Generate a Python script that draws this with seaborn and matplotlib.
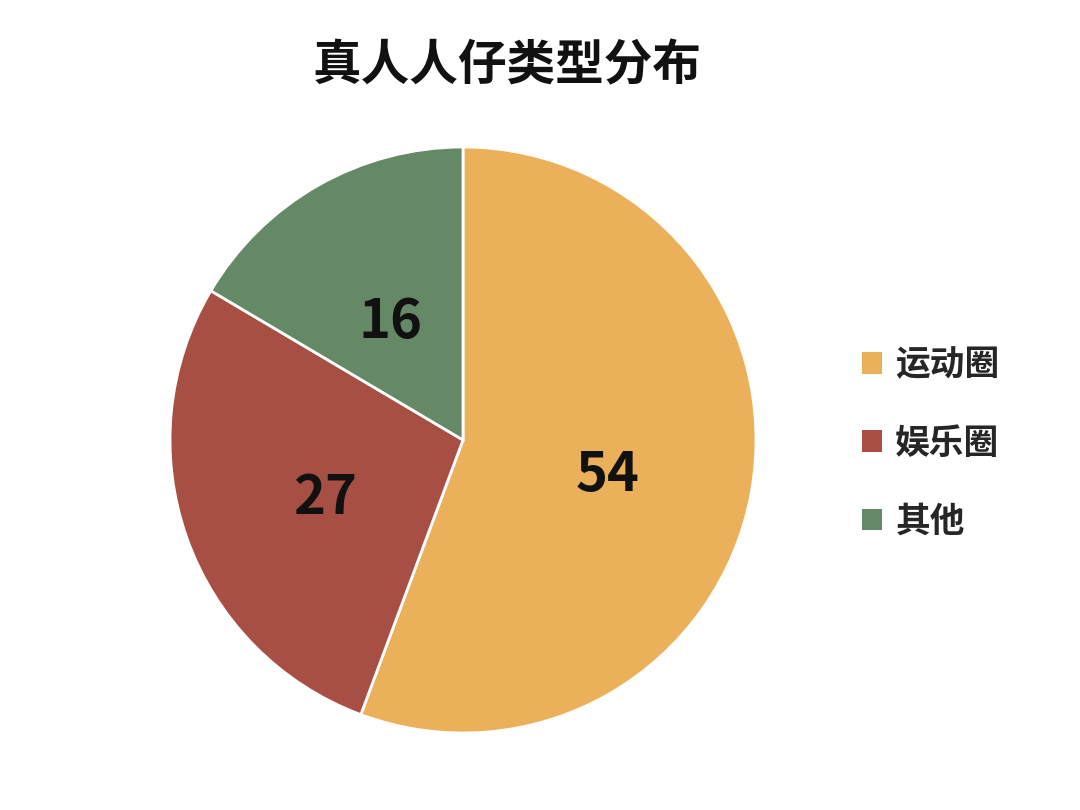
import matplotlib
matplotlib.use("Agg")
import matplotlib.pyplot as plt
import seaborn as sns
from matplotlib.patches import Patch

categories = ["运动圈", "娱乐圈", "其他"]
values = [54, 27, 16]
colors_hex = ["#EBB05A", "#A84F45", "#658966"]
title = "真人人仔类型分布"

sns.set_theme(style="white")
plt.rcParams['font.family'] = ['Noto Sans CJK SC', 'DejaVu Sans']

palette = sns.color_palette(colors_hex)

fig = plt.figure(figsize=(10.8, 8.1), dpi=100)
W, H = 1080, 810
cx, cy, r = 463, 440, 293
ax = fig.add_axes([(cx - r) / W, (H - cy - r) / H, 2 * r / W, 2 * r / H])

wedges, texts, autotexts = ax.pie(
    values,
    colors=palette,
    startangle=90,
    counterclock=False,
    autopct=lambda p: f"{round(p * sum(values) / 100):d}",
    pctdistance=0.5,
    wedgeprops=dict(edgecolor="white", linewidth=2),
    textprops=dict(fontsize=39, color="#111111", fontweight="bold"),
)
for t in autotexts:
    t.set_y(t.get_position()[1] - 10 / r)
ax.set_xlim(-1, 1)
ax.set_ylim(-1, 1)
ax.set_aspect("equal")
ax.axis("off")

fig.text(507 / W, 1 - 66 / H, title, ha="center", va="center",
         fontsize=35, fontweight="bold", color="#111111")

handles = [Patch(facecolor=c, edgecolor="none") for c in palette]
fig.legend(handles, categories, loc="center left",
           bbox_to_anchor=(831 / W, 1 - 443 / H), frameon=False,
           prop=dict(size=25, weight="bold"), handlelength=0.58, handleheight=0.58,
           handletextpad=0.37, labelspacing=1.25)

fig.savefig("out.png", dpi=100)
